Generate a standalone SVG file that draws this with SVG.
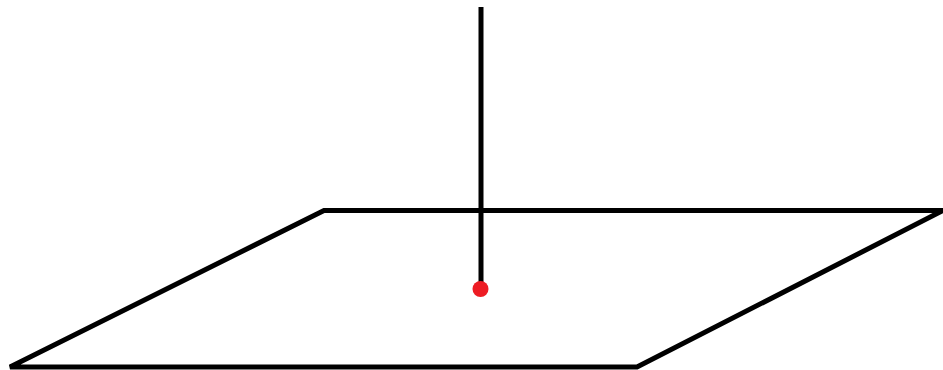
<svg xmlns="http://www.w3.org/2000/svg" width="943" height="370" viewBox="0 0 943 370">
<style>
.ln{fill:none;stroke:#000;stroke-width:5;stroke-linejoin:miter}
</style>
<rect width="943" height="370" fill="#fff"/>
<polygon class="ln" points="324,210.5 943,210.5 637,367 10,367"/>
<line class="ln" x1="481" y1="7" x2="481" y2="285"/>
<circle cx="480.5" cy="289" r="8" fill="#ed1c24"/>
</svg>
